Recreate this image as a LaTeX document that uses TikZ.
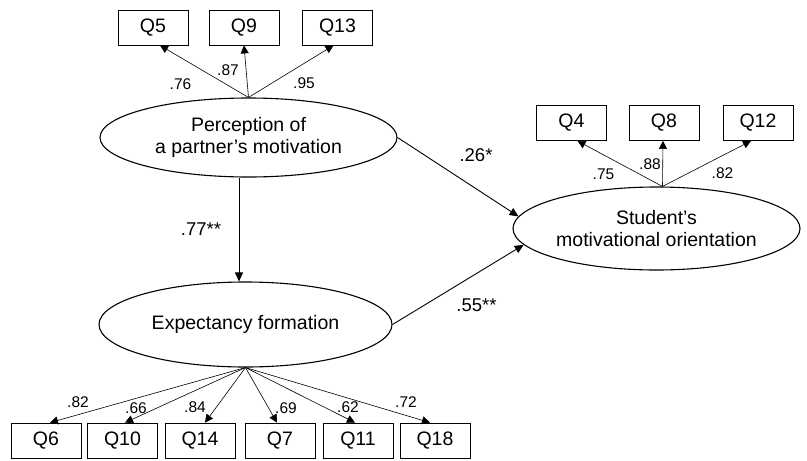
\documentclass[tikz,border=0pt]{standalone}
\usepackage{fontspec}
\setmainfont{Liberation Sans}
\usetikzlibrary{shapes.geometric,arrows.meta}

\tikzset{
  item/.style={draw, line width=0.8pt, minimum width=70pt, minimum height=35pt, inner sep=0pt, font=\fontsize{19.5}{22}\selectfont},
  latent/.style={draw, ellipse, line width=1.1pt, inner sep=0pt, align=center, font=\fontsize{19.5}{22}\selectfont},
  load/.style={line width=0.6pt, -{Triangle[length=8pt,width=8pt]}},
  path/.style={line width=0.9pt, -{Triangle[length=9pt,width=8pt]}},
  loadval/.style={inner sep=0pt, text depth=0pt, font=\fontsize{15.5}{18}\selectfont},
  pathval/.style={inner sep=0pt, text depth=0pt, font=\fontsize{18.5}{22}\selectfont}
}

\begin{document}
\begin{tikzpicture}[x=1pt, y=-1pt]
   \useasboundingbox (0,0) rectangle (807,461);

   % latent variables
   \node(perc)[latent, minimum width=297pt, minimum height=79pt] at (248.5,137.5) {Perception of\\a partner’s motivation};
   \node(stud)[latent, minimum width=287pt, minimum height=83pt] at (656.5,228.5) {Student’s\\motivational orientation};
   \node(expect)[latent, minimum width=293pt, minimum height=85pt] at (245.5,324.5) {Expectancy formation};

   % items of perception
   \node(Q5)[item] at (153,27.5) {Q5};
   \node(Q9)[item] at (244,27.5) {Q9};
   \node(Q13)[item] at (337.5,27.5) {Q13};
   \draw[load] (perc.north) -- ([xshift=7pt]Q5.south);
   \draw[load] (perc.north) -- (Q9.south);
   \draw[load] (perc.north) -- ([xshift=-4pt]Q13.south);
   \node(L5)[loadval] at (180.5,84) {.76};
   \node(L9)[loadval] at (228,70) {.87};
   \node(L13)[loadval] at (304,83) {.95};

   % items of orientation
   \node(Q4)[item] at (571.5,123) {Q4};
   \node(Q8)[item] at (664,123) {Q8};
   \node(Q12)[item] at (758,123) {Q12};
   \draw[load] ([xshift=6pt]stud.north) -- ([xshift=6pt]Q4.south);
   \draw[load] ([xshift=6pt]stud.north) -- ([xshift=-1pt]Q8.south);
   \draw[load] ([xshift=6pt]stud.north) -- ([xshift=-7pt]Q12.south);
   \node(L4)[loadval] at (603.5,174) {.75};
   \node(L8)[loadval] at (650,164) {.88};
   \node(L12)[loadval] at (722.5,173) {.82};

   % items of expectancy
   \node(Q6)[item] at (46,440.5) {Q6};
   \node(Q10)[item] at (122.5,440.5) {Q10};
   \node(Q14)[item] at (200,440.5) {Q14};
   \node(Q7)[item] at (280,440.5) {Q7};
   \node(Q11)[item] at (358,440.5) {Q11};
   \node(Q18)[item] at (435,440.5) {Q18};
   \foreach \q/\s in {Q6/4, Q10/2.5, Q14/5, Q7/-3, Q11/-3, Q18/-5}
     \draw[load] (expect.south) -- ([xshift=\s pt]\q.north);
   \node(L6)[loadval] at (78,402.5) {.82};
   \node(L10)[loadval] at (136,408) {.66};
   \node(L14)[loadval] at (195,407.5) {.84};
   \node(L7)[loadval] at (286,408) {.69};
   \node(L11)[loadval] at (348,407.5) {.62};
   \node(L18)[loadval] at (406,402.5) {.72};

   % structural paths
   \draw[path] ([xshift=-9.5pt]perc.south) -- ([xshift=-6.5pt]expect.north);
   \draw[path] (perc.east) -- (stud.175);
   \draw[path] (expect.east) -- (stud.187);
   \node(P1)[pathval] at (201,229.5) {.77**};
   \node(P2)[pathval] at (476,155) {.26*};
   \node(P3)[pathval] at (476.5,305) {.55**};
  \end{tikzpicture}
\end{document}
